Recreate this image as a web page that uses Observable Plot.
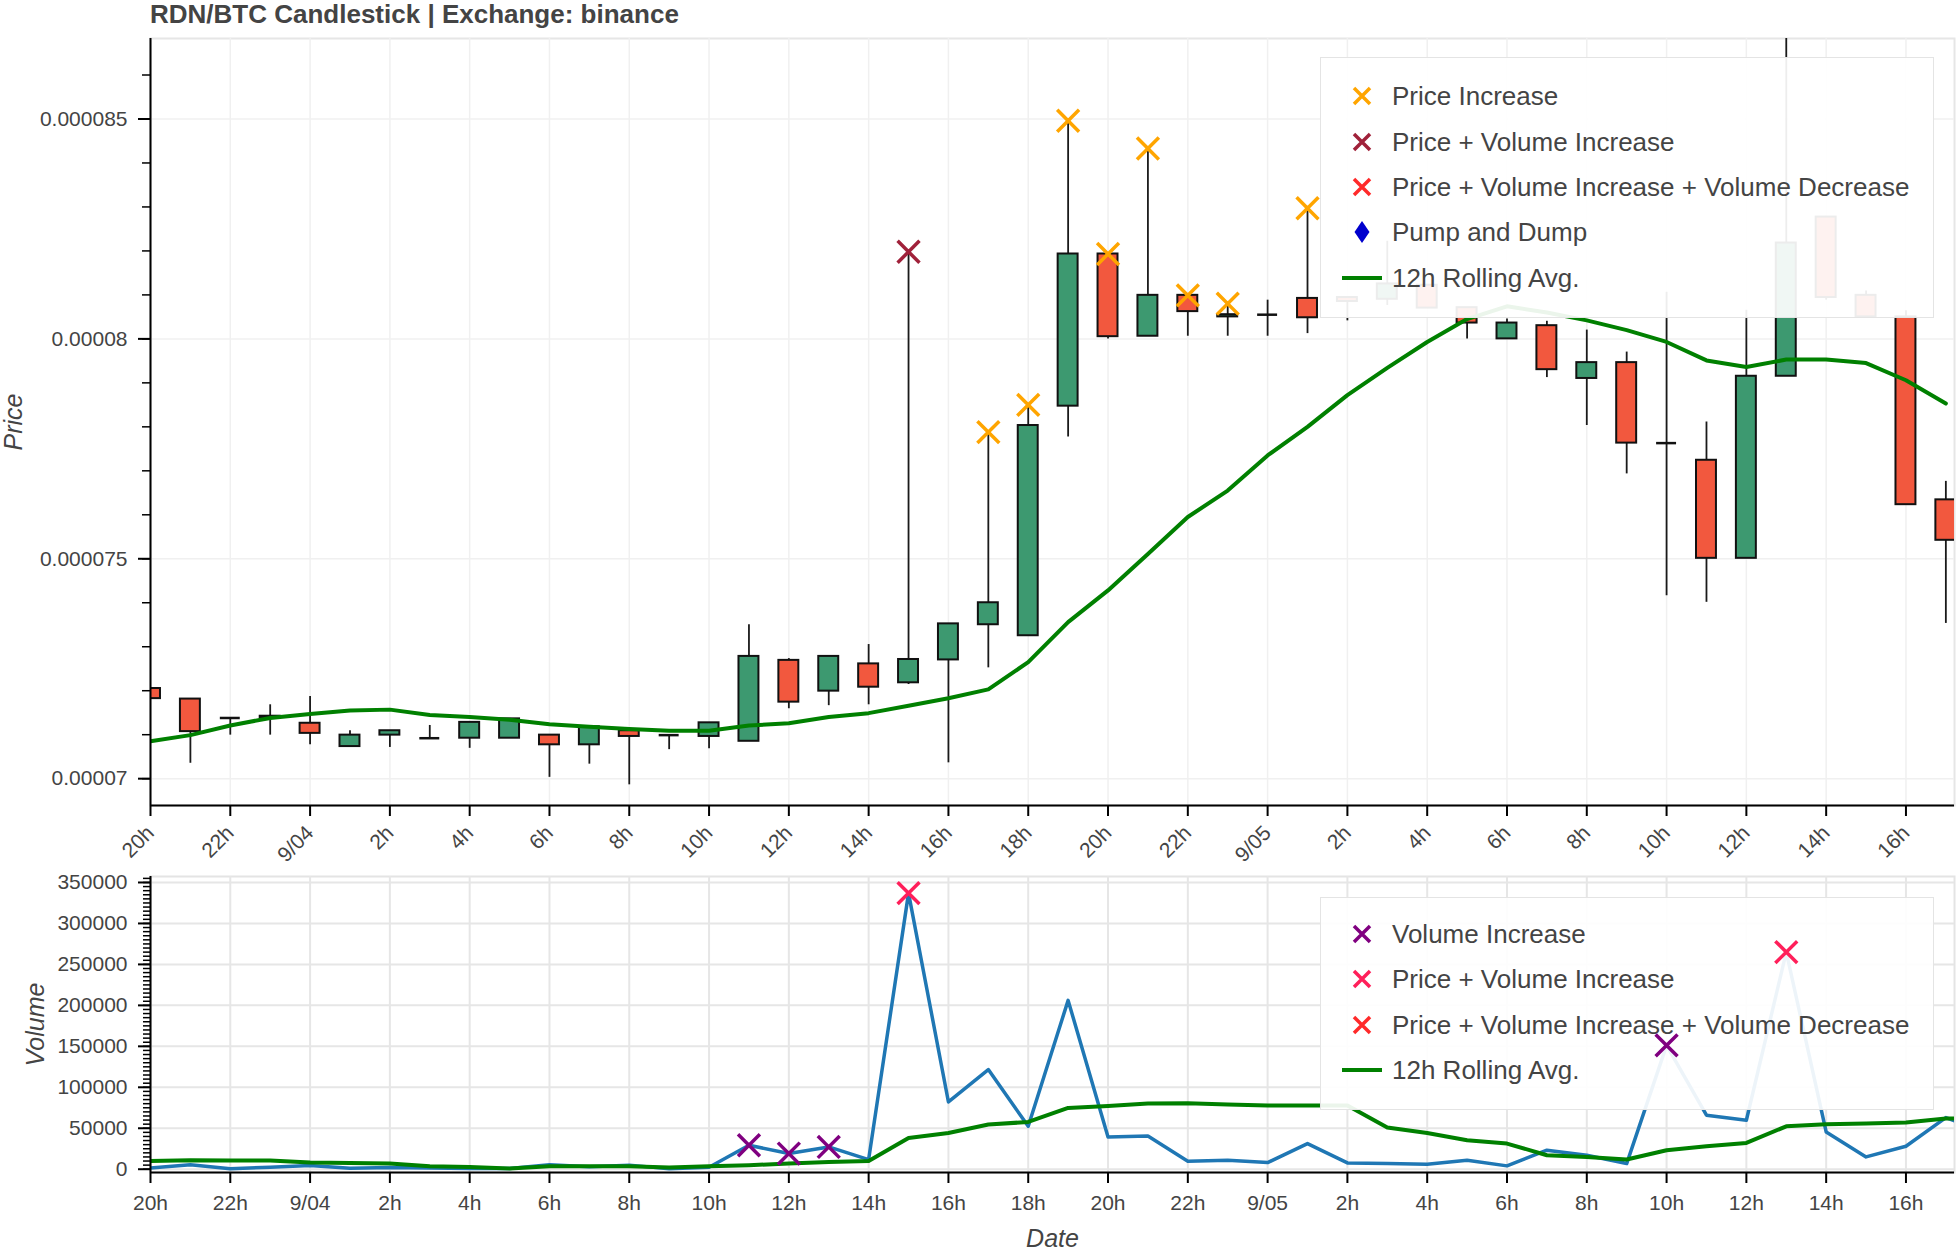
<!DOCTYPE html>
<html>
<head>
<meta charset="utf-8">
<script src="https://cdn.jsdelivr.net/npm/d3@7"></script>
<script src="https://cdn.jsdelivr.net/npm/@observablehq/plot@0.6"></script>
<style>
html, body { margin: 0; padding: 0; background: #fff; }
#root { position: relative; width: 1959px; height: 1252px; overflow: hidden; background: #fff;
  font-family: "Liberation Sans", Arial, Helvetica, sans-serif; }
#title { position: absolute; left: 150px; top: -1px; font-size: 26px; font-weight: bold; color: #444; white-space: nowrap; }
.panel { position: absolute; left: 0; }
.legend { position: absolute; background: rgba(255,255,255,0.92); border: 1px solid #e4e4e4; box-sizing: border-box; }
.item { position: absolute; left: 0; height: 30px; width: 100%; }
.item svg { position: absolute; left: 20px; top: 0; }
.item span { position: absolute; left: 71px; top: 0; line-height: 30px; font-size: 26px; color: #444; white-space: nowrap; }
</style>
</head>
<body>
<div id="root">
  <div id="price" class="panel" style="top:0px"></div>
  <div id="volume" class="panel" style="top:870px"></div>
  <div id="title">RDN/BTC Candlestick | Exchange: binance</div>
  <div id="priceLegend" class="legend" style="left:1320px;top:57px;width:614px;height:261px"></div>
  <div id="volumeLegend" class="legend" style="left:1320px;top:897px;width:614px;height:213px"></div>
  <div id="volumeMarks" class="panel" style="top:870px"></div>
</div>
<script>
// ---------- DATA ----------
const times = [
  "2018-09-03T20:00Z","2018-09-03T21:00Z","2018-09-03T22:00Z","2018-09-03T23:00Z",
  "2018-09-04T00:00Z","2018-09-04T01:00Z","2018-09-04T02:00Z","2018-09-04T03:00Z",
  "2018-09-04T04:00Z","2018-09-04T05:00Z","2018-09-04T06:00Z","2018-09-04T07:00Z",
  "2018-09-04T08:00Z","2018-09-04T09:00Z","2018-09-04T10:00Z","2018-09-04T11:00Z",
  "2018-09-04T12:00Z","2018-09-04T13:00Z","2018-09-04T14:00Z","2018-09-04T15:00Z",
  "2018-09-04T16:00Z","2018-09-04T17:00Z","2018-09-04T18:00Z","2018-09-04T19:00Z",
  "2018-09-04T20:00Z","2018-09-04T21:00Z","2018-09-04T22:00Z","2018-09-04T23:00Z",
  "2018-09-05T00:00Z","2018-09-05T01:00Z","2018-09-05T02:00Z","2018-09-05T03:00Z",
  "2018-09-05T04:00Z","2018-09-05T05:00Z","2018-09-05T06:00Z","2018-09-05T07:00Z",
  "2018-09-05T08:00Z","2018-09-05T09:00Z","2018-09-05T10:00Z","2018-09-05T11:00Z",
  "2018-09-05T12:00Z","2018-09-05T13:00Z","2018-09-05T14:00Z","2018-09-05T15:00Z",
  "2018-09-05T16:00Z","2018-09-05T17:00Z","2018-09-05T18:00Z"
];
// prices in satoshi (1e-8 BTC)
const open  = [7205,7181,7138,7138,7126,7073,7099,7092,7092,7092,7099,7077,7109,7099,7096,7085,7269,7199,7261,7218,7270,7350,7325,7847,
               8193,8006,8099,8050,8055,8092,8094,8090,8122,8071,8000,8030,7910,7946,7763,7724,7501,7915,8277,8099,8050,7634];
const high  = [7205,7181,7138,7168,7187,7109,7109,7121,7128,7136,7099,7118,7109,7099,7127,7350,7273,7278,7305,8198,7352,7788,7850,8496,
               8193,8433,8099,8080,8088,8297,8094,8222,8122,8071,8045,8040,8020,7970,8106,7811,8065,8720,8277,8109,8064,7676];
const low   = [7182,7035,7099,7099,7077,7073,7071,7092,7069,7092,7003,7033,6986,7066,7068,7085,7159,7166,7168,7214,7036,7252,7325,7777,
               8000,8006,8006,8006,8006,8012,8041,8076,8069,8000,8000,7912,7803,7693,7416,7401,7501,7915,8088,8050,7623,7353];
const close = [7182,7107,7138,7142,7103,7099,7109,7092,7128,7136,7077,7118,7096,7099,7127,7278,7174,7278,7208,7271,7352,7400,7803,8193,
               8005,8099,8062,8055,8055,8048,8085,8125,8070,8036,8036,7930,7946,7763,7763,7501,7915,8218,8094,8050,7623,7542];
const priceAvg = [7085,7099,7121,7138,7147,7155,7157,7145,7140,7134,7124,7118,7113,7109,7109,7121,7126,7140,7149,7166,7183,7203,7265,7356,
                  7428,7511,7595,7655,7735,7800,7872,7934,7993,8045,8074,8060,8042,8020,7993,7951,7936,7953,7953,7945,7906,7853];
const volume = [1500,5500,700,2500,4500,1200,2000,1500,800,1000,5500,3000,5000,500,2500,29300,19100,27200,11800,337000,82100,121600,52400,206100,
                39400,40600,9800,11000,8100,31300,7700,6900,6100,11000,4100,23200,17100,6900,151200,65900,59800,265000,45500,15000,28000,63000,45000];
const volumeAvg = [10100,11000,10600,10600,8100,7700,6900,3700,2800,800,3700,3700,3700,2000,3700,4900,6900,8900,10100,38200,44300,54500,57700,74800,
                   77200,80100,80500,78900,77700,77700,77700,50800,44300,35400,31300,17100,15000,11800,23200,28000,32100,52400,54900,55700,57000,61800,63000];
// signal markers
const priceIncreaseAt = ["2018-09-04T17:00Z","2018-09-04T18:00Z","2018-09-04T19:00Z","2018-09-04T20:00Z",
                         "2018-09-04T21:00Z","2018-09-04T22:00Z","2018-09-04T23:00Z","2018-09-05T01:00Z"];
const priceVolumeIncreaseAt = ["2018-09-04T15:00Z","2018-09-05T13:00Z"];
const volumeIncreaseAt = ["2018-09-04T11:00Z","2018-09-04T12:00Z","2018-09-04T13:00Z","2018-09-05T10:00Z"];
const priceLegendLabels = ["Price Increase","Price + Volume Increase","Price + Volume Increase + Volume Decrease","Pump and Dump","12h Rolling Avg."];
const volumeLegendLabels = ["Volume Increase","Price + Volume Increase","Price + Volume Increase + Volume Decrease","12h Rolling Avg."];
const xStart = "2018-09-03T20:00Z", xEnd = "2018-09-05T17:13Z";

// ---------- STYLE ----------
const GREEN = "#3D9970", RED = "#F2583E", AVG = "#008000", VOL = "#1f77b4";
const C_PI = "#FFA500", C_PVI = "#A0213A", C_PVIVD = "#FF2A2A", C_PD = "#0000CD", C_VI = "#800080", C_PVI2 = "#FF1F5A";
const FONT = "'Liberation Sans', Arial, Helvetica, sans-serif";
const HALF = 15 * 60 * 1000;

// ---------- TABLES ----------
const candles = open.map((o, i) => ({
  time: new Date(times[i]), open: o / 1e8, high: high[i] / 1e8, low: low[i] / 1e8, close: close[i] / 1e8, avg: priceAvg[i] / 1e8
}));
const vols = volume.map((v, i) => ({ time: new Date(times[i]), volume: v, avg: volumeAvg[i] }));
const byTime = (arr) => new Map(arr.map(d => [+d.time, d]));
const cMap = byTime(candles), vMap = byTime(vols);
const piMarks = priceIncreaseAt.map(t => cMap.get(+new Date(t)));
const pviMarks = priceVolumeIncreaseAt.map(t => cMap.get(+new Date(t)));
const viMarks = volumeIncreaseAt.map(t => vMap.get(+new Date(t)));
const pvi2Marks = priceVolumeIncreaseAt.map(t => vMap.get(+new Date(t)));

const xDomain = [new Date(xStart), new Date(xEnd)];
const xTicks = d3.utcHour.every(2).range(xDomain[0], new Date(+xDomain[1] + 1));
const fmtX = d => d.getUTCHours() === 0 ? `${d.getUTCMonth() + 1}/${String(d.getUTCDate()).padStart(2, "0")}` : `${d.getUTCHours()}h`;

const pDomain = [0.00006939, 0.00008683];
const pMajor = [0.00007, 0.000075, 0.00008, 0.000085];
const pMinor = d3.range(6900, 8700, 100).map(v => v / 1e8).filter(v => v >= pDomain[0] && v <= pDomain[1]);
const fmtP = d => d.toFixed(6).replace(/0+$/, "");

const vDomain = [-4000, 357300];
const vMajor = d3.range(0, 350001, 50000);
const vMinor = d3.range(0, 357001, 5000);

const baseStyle = { fontSize: "21px", fontFamily: FONT, color: "#000", background: "transparent", overflow: "visible" };

// ---------- PRICE PANEL ----------
const price = Plot.plot({
  width: 1959, height: 870,
  marginTop: 38, marginBottom: 65, marginLeft: 150, marginRight: 5,
  style: baseStyle,
  x: { type: "utc", domain: xDomain },
  y: { domain: pDomain },
  marks: [
    Plot.frame({ stroke: "#e6e6e6", strokeWidth: 2 }),
    Plot.gridX({ ticks: xTicks, stroke: "#f0f0f0", strokeOpacity: 1, strokeWidth: 1.5 }),
    Plot.gridY({ ticks: pMajor, stroke: "#f0f0f0", strokeOpacity: 1, strokeWidth: 1.5 }),
    Plot.ruleX(candles, { x: "time", y1: "low", y2: "high", stroke: "#1a1a1a", strokeWidth: 1.8, clip: true }),
    Plot.rect(candles.filter(d => d.open !== d.close), {
      x1: d => new Date(+d.time - HALF), x2: d => new Date(+d.time + HALF),
      y1: "open", y2: "close", fill: d => d.close > d.open ? GREEN : RED,
      stroke: "#111", strokeWidth: 2, clip: true
    }),
    Plot.ruleY(candles.filter(d => d.open === d.close), {
      x1: d => new Date(+d.time - HALF), x2: d => new Date(+d.time + HALF),
      y: "open", stroke: "#111", strokeWidth: 2.5, clip: true
    }),
    Plot.line(candles, { x: "time", y: "avg", stroke: AVG, strokeWidth: 4, clip: true }),
    Plot.dot(piMarks, { x: "time", y: "high", symbol: "times", r: 10, stroke: C_PI, strokeWidth: 3.5, clip: true }),
    Plot.dot(pviMarks, { x: "time", y: "high", symbol: "times", r: 10, stroke: C_PVI, strokeWidth: 3.5, clip: true }),
    Plot.ruleX([xDomain[0]], { stroke: "#000", strokeWidth: 2 }),
    Plot.ruleY([pDomain[0]], { stroke: "#000", strokeWidth: 2 }),
    Plot.axisY({ ticks: pMinor, tickFormat: () => "", tickSize: 8, stroke: "#000", strokeWidth: 1.5, label: null }),
    Plot.axisY({ ticks: pMajor, tickFormat: fmtP, tickSize: 12, tickPadding: 11, stroke: "#000", fill: "#444", strokeWidth: 2, label: null }),
    Plot.axisX({ ticks: xTicks, tickFormat: fmtX, tickRotate: -45, tickSize: 11, tickPadding: 13, stroke: "#000", fill: "#444", strokeWidth: 2, label: null }),
    Plot.text(["Price"], { text: d => d, frameAnchor: "left", textAnchor: "middle", lineAnchor: "middle", dx: -137, rotate: -90, fontSize: 25, fontStyle: "italic", fill: "#444" })
  ]
});
document.getElementById("price").appendChild(price);

// ---------- VOLUME PANEL ----------
const volOpts = {
  width: 1959, height: 382,
  marginTop: 6, marginBottom: 80, marginLeft: 150, marginRight: 5,
  style: baseStyle
};
const vol = Plot.plot({
  ...volOpts,
  x: { type: "utc", domain: xDomain },
  y: { domain: vDomain },
  marks: [
    Plot.frame({ stroke: "#e4e4e4", strokeWidth: 2 }),
    Plot.gridX({ ticks: xTicks, stroke: "#e6e6e6", strokeOpacity: 1, strokeWidth: 2 }),
    Plot.gridY({ ticks: vMajor, stroke: "#e6e6e6", strokeOpacity: 1, strokeWidth: 2 }),
    Plot.line(vols, { x: "time", y: "volume", stroke: VOL, strokeWidth: 3.5, clip: true }),
    Plot.line(vols, { x: "time", y: "avg", stroke: AVG, strokeWidth: 4, clip: true }),
    Plot.ruleX([xDomain[0]], { stroke: "#000", strokeWidth: 2 }),
    Plot.ruleY([vDomain[0]], { stroke: "#000", strokeWidth: 2 }),
    Plot.axisY({ ticks: vMinor, tickFormat: () => "", tickSize: 7, stroke: "#000", strokeWidth: 1.5, label: null }),
    Plot.axisY({ ticks: vMajor, tickFormat: d => String(d), tickSize: 12, tickPadding: 11, stroke: "#000", fill: "#444", strokeWidth: 2, label: null }),
    Plot.axisX({ ticks: xTicks, tickFormat: fmtX, tickSize: 11, tickPadding: 12, stroke: "#000", fill: "#444", strokeWidth: 2, label: null }),
    Plot.text(["Volume"], { text: d => d, frameAnchor: "left", textAnchor: "middle", lineAnchor: "middle", dx: -115, rotate: -90, fontSize: 25, fontStyle: "italic", fill: "#444" }),
    Plot.text(["Date"], { text: d => d, frameAnchor: "bottom", textAnchor: "middle", lineAnchor: "middle", dy: 66, fontSize: 25, fontStyle: "italic", fill: "#444" })
  ]
});
document.getElementById("volume").appendChild(vol);

// volume signal markers, drawn above the legend
const volMarks = Plot.plot({
  ...volOpts,
  x: { type: "utc", domain: xDomain, axis: null },
  y: { domain: vDomain, axis: null },
  marks: [
    Plot.dot(viMarks, { x: "time", y: "volume", symbol: "times", r: 10, stroke: C_VI, strokeWidth: 3.5, clip: true }),
    Plot.dot(pvi2Marks, { x: "time", y: "volume", symbol: "times", r: 10, stroke: C_PVI2, strokeWidth: 3.5, clip: true })
  ]
});
document.getElementById("volumeMarks").appendChild(volMarks);

// ---------- LEGENDS ----------
const glyph = {
  x: c => `<path d="M-8,-8L8,8M-8,8L8,-8" stroke="${c}" stroke-width="3.5" fill="none"/>`,
  diamond: c => `<path d="M0,-11L7.5,0L0,11L-7.5,0Z" fill="${c}"/>`,
  line: c => `<path d="M-20,0L20,0" stroke="${c}" stroke-width="4"/>`
};
function buildLegend(el, labels, kinds, colors, rows) {
  el.innerHTML = labels.map((lab, i) =>
    `<div class="item" style="top:${rows[i] - 15}px">` +
    `<svg width="42" height="30" viewBox="-21 -15 42 30">${glyph[kinds[i]](colors[i])}</svg>` +
    `<span>${lab}</span></div>`).join("");
}
buildLegend(document.getElementById("priceLegend"), priceLegendLabels,
  ["x", "x", "x", "diamond", "line"], [C_PI, C_PVI, C_PVIVD, C_PD, AVG], [38, 84, 129, 174, 220]);
buildLegend(document.getElementById("volumeLegend"), volumeLegendLabels,
  ["x", "x", "x", "line"], [C_VI, C_PVI2, C_PVIVD, AVG], [36, 81, 127, 172]);
</script>
</body>
</html>
